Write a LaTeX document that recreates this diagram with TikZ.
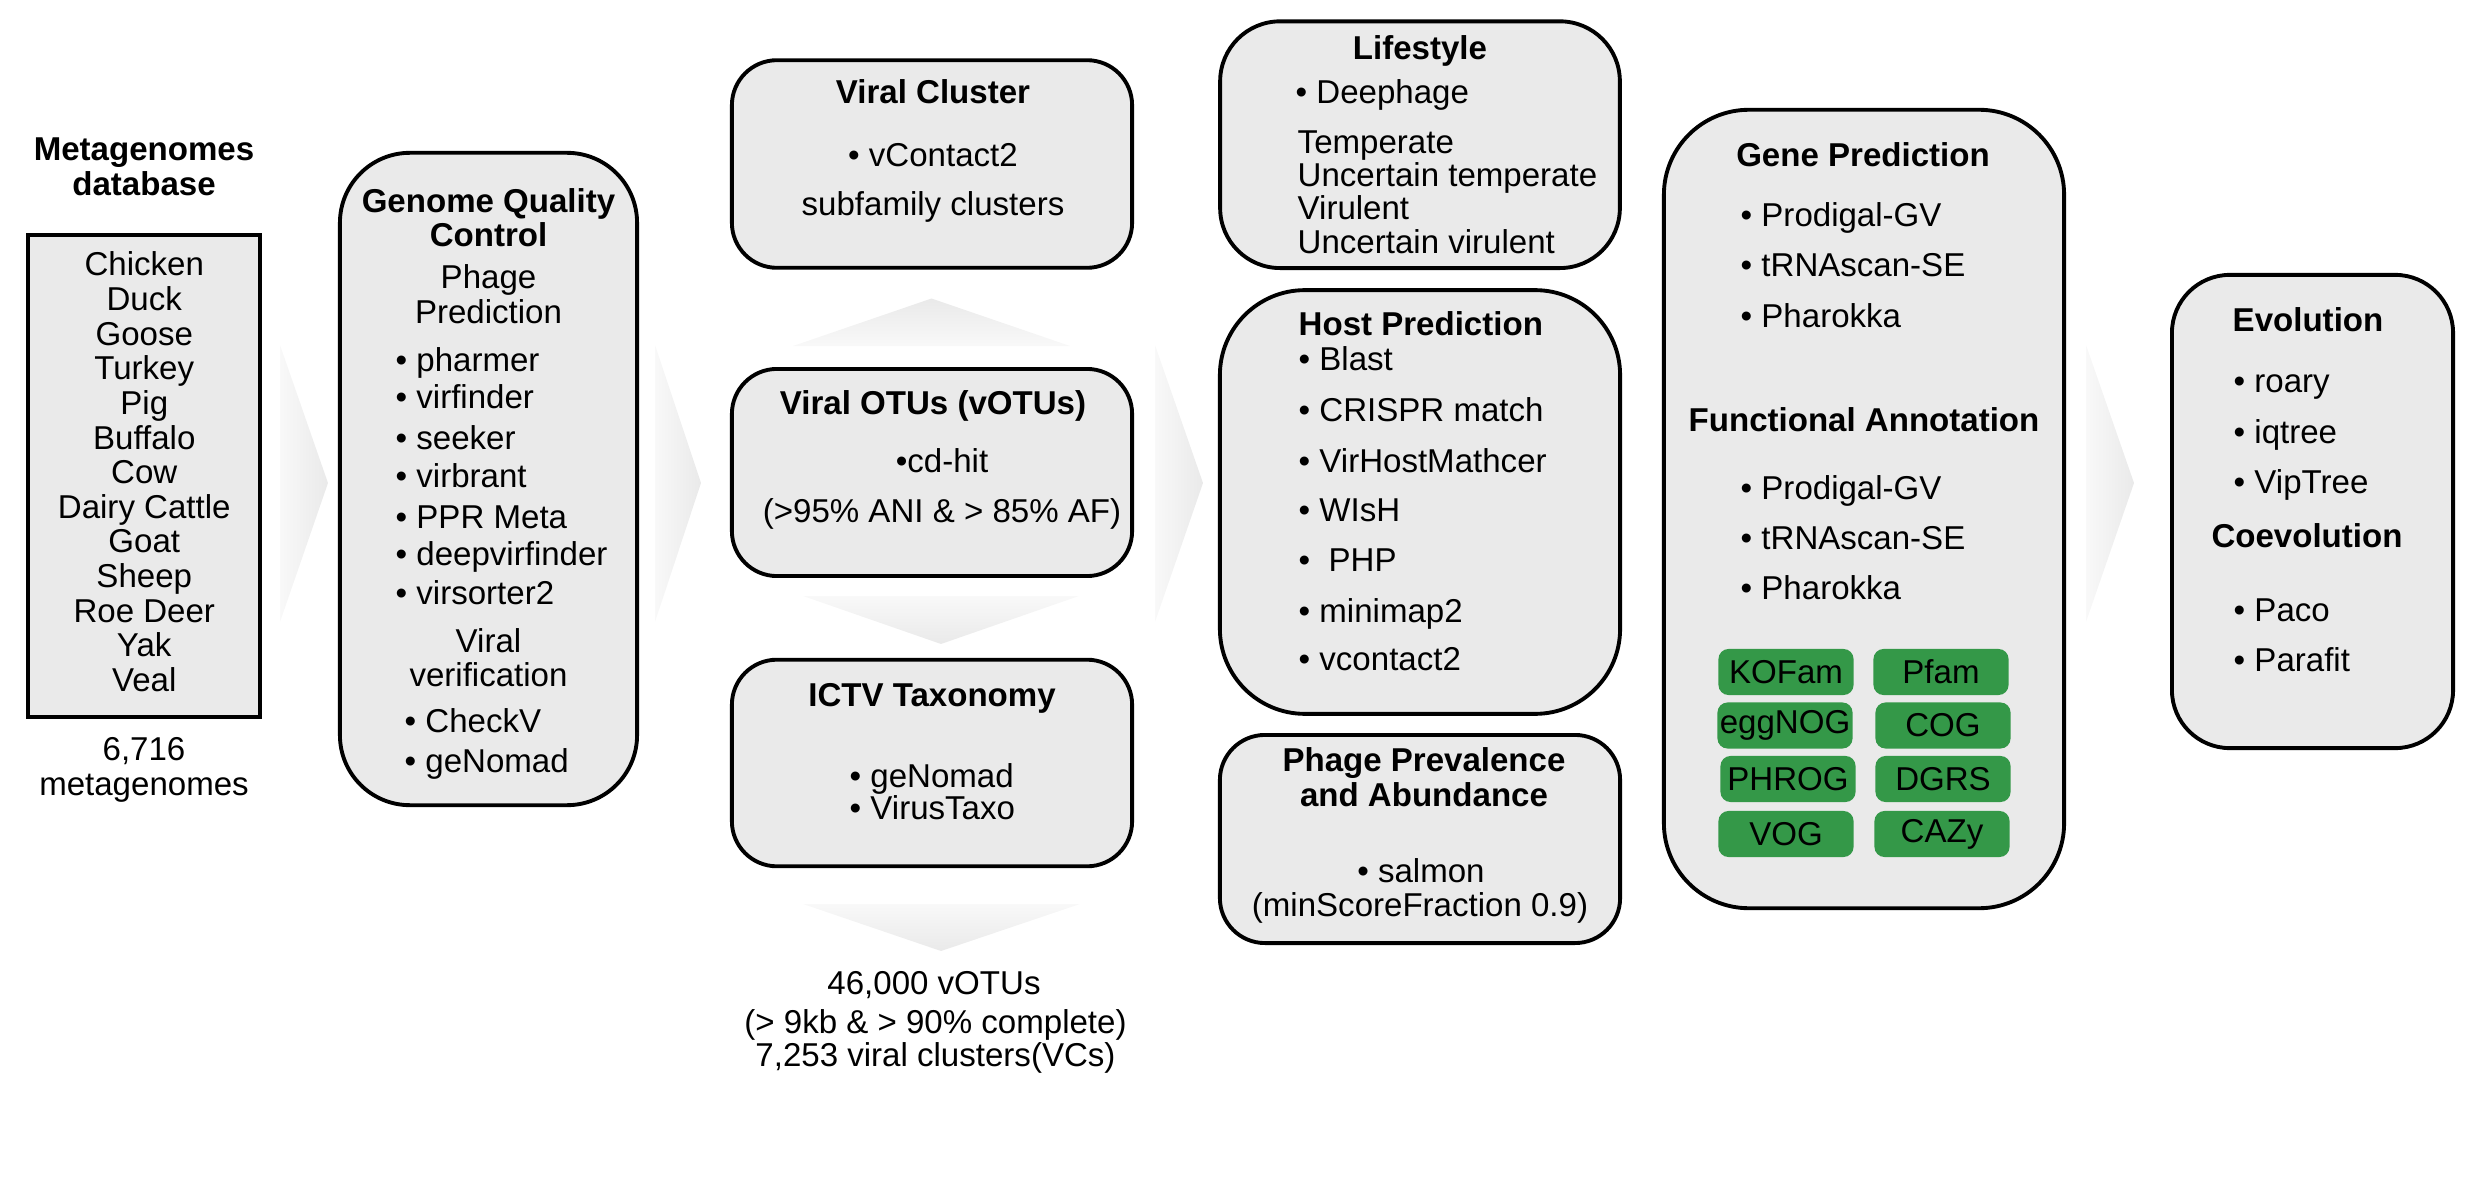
\documentclass[tikz,border=0pt]{standalone}
\usepackage{fontspec}
\setmainfont{Liberation Sans}
\definecolor{boxgray}{RGB}{234,234,234}
\definecolor{ggreen}{RGB}{52,152,72}
\begin{document}
\begin{tikzpicture}[x=0.01cm,y=-0.01cm,
  txt/.style={font=\fontsize{9.4}{11}\selectfont, inner sep=0pt, anchor=base},
  ltxt/.style={txt, anchor=base west},
  ttl/.style={txt, font=\fontsize{9.4}{11}\selectfont\bfseries},
  lttl/.style={ttl, anchor=base west},
  box/.style={draw=black, line width=1.1pt, fill=boxgray, inner sep=0pt},
  gbox/.style={fill=ggreen, rounded corners=0.1cm, minimum width=1.35cm, minimum height=0.46cm, inner sep=0pt, font=\fontsize{9.4}{11}\selectfont},
  chevh/.style={left color=gray!5, right color=gray!17},
  chevd/.style={top color=gray!5, bottom color=gray!17},
  chevu/.style={bottom color=gray!5, top color=gray!17}
]
\useasboundingbox (0,0) rectangle (2481,1182);

% ---------- chevrons ----------
\shade[chevh] (280,345) -- (328,483) -- (280,622) -- cycle;
\shade[chevh] (655,345) -- (701,483) -- (655,622) -- cycle;
\shade[chevh] (1155,345) -- (1203,483) -- (1155,622) -- cycle;
\shade[chevh] (2086,345) -- (2134,483) -- (2086,622) -- cycle;
\shade[chevu] (793,346) -- (931.5,298.5) -- (1070,346) -- cycle;
\shade[chevd] (803,596) -- (941,644) -- (1079,596) -- cycle;
\shade[chevd] (803,904) -- (941,951) -- (1080,904) -- cycle;

% ---------- column 1: metagenomes ----------
\node[ttl] (mt1) at (144,161) {Metagenomes};
\node[ttl] (mt2) at (144,196) {database};
\node[box, minimum width=2.315cm, minimum height=4.82cm] (meta) at (144.25,476) {};
\foreach \t [count=\i] in {Chicken,Duck,Goose,Turkey,Pig,Buffalo,Cow,Dairy Cattle,Goat,Sheep,Roe Deer,Yak,Veal}
  \node[txt] (an\i) at (144.25,{276+34.6*(\i-1)}) {\t};
\node[txt] (mc1) at (144,760) {6,716};
\node[txt] (mc2) at (144,795) {metagenomes};

% ---------- column 2: genome quality control ----------
\node[box, rounded corners=0.7cm, minimum width=2.97cm, minimum height=6.52cm] (qc) at (488.5,479) {};
\node[ttl] (qct1) at (488.5,213) {Genome Quality};
\node[ttl] (qct2) at (488.5,246.5) {Control};
\node[txt] (qcp1) at (488.5,289) {Phage};
\node[txt] (qcp2) at (488.5,323.5) {Prediction};
\foreach \t/\y [count=\i] in {pharmer/371,virfinder/409,seeker/449,virbrant/487,PPR Meta/528,deepvirfinder/565,virsorter2/604}
  \node[ltxt] (qcb\i) at (395,\y) {• \t};
\node[txt] (qcv1) at (488.5,652) {Viral};
\node[txt] (qcv2) at (488.5,686) {verification};
\node[ltxt] (qcc1) at (404,732) {• CheckV};
\node[ltxt] (qcc2) at (404,772) {• geNomad};

% ---------- column 3 ----------
\node[box, rounded corners=0.45cm, minimum width=4cm, minimum height=2.075cm] (vc) at (932,164) {};
\node[ttl] (vct) at (933,104) {Viral Cluster};
\node[txt] (vc1) at (933,167) {• vContact2};
\node[txt] (vc2) at (933,216) {subfamily clusters};

\node[box, rounded corners=0.45cm, minimum width=4cm, minimum height=2.07cm] (votu) at (932,472.5) {};
\node[ttl] (vot) at (933,414) {Viral OTUs (vOTUs)};
\node[txt] (vo1) at (942,472.6) {•cd-hit};
\node[txt] (vo2) at (942,522) {(>95\% ANI \& > 85\% AF)};

\node[box, rounded corners=0.45cm, minimum width=4cm, minimum height=2.065cm] (ictv) at (932,763) {};
\node[ttl] (ict) at (932,706) {ICTV Taxonomy};
\node[ltxt] (ic1) at (849,787) {• geNomad};
\node[ltxt] (ic2) at (849,819) {• VirusTaxo};

\node[txt] (sum1) at (934,994) {46,000 vOTUs};
\node[txt] (sum2) at (935.5,1033) {(> 9kb \& > 90\% complete)};
\node[txt] (sum3) at (935.5,1066) {7,253 viral clusters(VCs)};

% ---------- column 4 ----------
\node[box, rounded corners=0.6cm, minimum width=3.995cm, minimum height=2.466cm] (life) at (1420,144.7) {};
\node[ttl] (lft) at (1420,60) {Lifestyle};
\node[ltxt] (lf0) at (1295,103.6) {• Deephage};
\foreach \t/\y [count=\i] in {Temperate/154,Uncertain temperate/186.6,Virulent/220,Uncertain virulent/253.6}
  \node[ltxt] (lf\i) at (1297,\y) {\t};

\node[box, rounded corners=0.85cm, minimum width=4cm, minimum height=4.235cm] (host) at (1420,502) {};
\node[lttl] (hpt) at (1298,335) {Host Prediction};
\foreach \t/\y [count=\i] in {Blast/370.5,CRISPR match/422,VirHostMathcer/472,WIsH/521,\ PHP/571,minimap2/622,vcontact2/670}
  \node[ltxt] (hp\i) at (1298,\y) {• \t};

\node[box, rounded corners=0.45cm, minimum width=4cm, minimum height=2.08cm] (prev) at (1420,839) {};
\node[ttl] (pvt1) at (1424,771.7) {Phage Prevalence};
\node[ttl] (pvt2) at (1424,806) {and Abundance};
\node[txt] (pv1) at (1421,882.7) {• salmon};
\node[txt] (pv2) at (1420,916.7) {(minScoreFraction 0.9)};

% ---------- column 5 ----------
\node[box, rounded corners=0.85cm, minimum width=4cm, minimum height=7.98cm] (gene) at (1864,509) {};
\node[ttl] (gpt) at (1863,167) {Gene Prediction};
\foreach \t/\y [count=\i] in {Prodigal-GV/227,tRNAscan-SE/277,Pharokka/327.5}
  \node[ltxt] (gp\i) at (1740,\y) {• \t};
\node[ttl] (fat) at (1864,431) {Functional Annotation};
\foreach \t/\y [count=\i] in {Prodigal-GV/499,tRNAscan-SE/549,Pharokka/599.5}
  \node[ltxt] (fa\i) at (1740,\y) {• \t};
\node[gbox] (g1) at (1786,672) {KOFam};
\node[gbox] (g2) at (1941,672) {Pfam};
\node[gbox] (g3) at (1785,725.5) {eggNOG};
\node[gbox] (g4) at (1943,725.5) {COG};
\node[gbox] (g5) at (1788,779) {PHROG};
\node[gbox] (g6) at (1943,779) {DGRS};
\node[gbox] (g7) at (1786,834) {VOG};
\node[gbox] (g8) at (1942,834) {CAZy};

% ---------- column 6 ----------
\node[box, rounded corners=0.58cm, minimum width=2.81cm, minimum height=4.73cm] (evo) at (2312.5,511.5) {};
\node[ttl] (evt) at (2308,331.7) {Evolution};
\foreach \t/\y [count=\i] in {roary/393,iqtree/443,VipTree/493}
  \node[ltxt] (ev\i) at (2233,\y) {• \t};
\node[ttl] (cot) at (2307,547) {Coevolution};
\foreach \t/\y [count=\i] in {Paco/621.7,Parafit/671.7}
  \node[ltxt] (co\i) at (2233,\y) {• \t};
\end{tikzpicture}
\end{document}
